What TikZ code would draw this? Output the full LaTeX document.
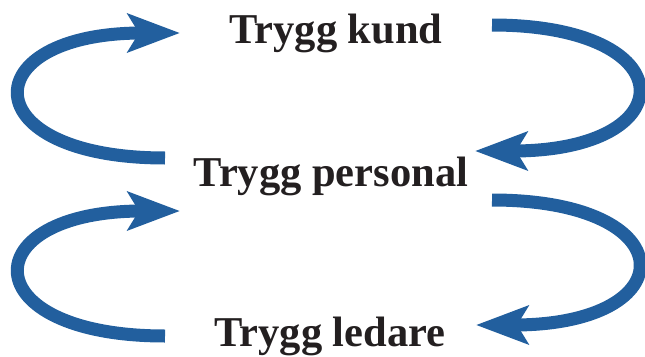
\documentclass[tikz,border=0pt]{standalone}
\usepackage{fontspec}
\setmainfont{Liberation Serif}
\usetikzlibrary{arrows.meta}
\definecolor{arrowblue}{HTML}{225F9E}
\definecolor{textblack}{HTML}{231F20}
\tikzset{
  label/.style={font=\fontsize{42.5}{50}\selectfont\bfseries, text=textblack, anchor=base, inner sep=0pt},
  loop/.style={draw=arrowblue, line width=13pt, line cap=butt,
    -{Stealth[length=52pt, width=38pt, inset=11pt]}},
}
\begin{document}
\begin{tikzpicture}[x=1pt, y=-1pt]
\useasboundingbox (0,0) rectangle (645,356);
\node[label] (kund) at (336,43) {Trygg kund};
\node[label] (pers) at (331,186) {Trygg personal};
\node[label] (led) at (330,346) {Trygg ledare};
% coordinates of arrow ends
\coordinate (t1) at (165,158);
\coordinate (h1) at (180,33);
\coordinate (t2) at (492,25);
\coordinate (h2) at (475,151);
\coordinate (t3) at (165,336);
\coordinate (h3) at (180,211);
\coordinate (t4) at (492,200);
\coordinate (h4) at (476,325);
\draw[loop] (t1) .. controls (-28,158) and (-28,33) .. (h1);
\draw[loop] (t2) .. controls (686,25) and (686,151) .. (h2);
\draw[loop] (t3) .. controls (-28,336) and (-28,211) .. (h3);
\draw[loop] (t4) .. controls (686,200) and (686,325) .. (h4);
\end{tikzpicture}
\end{document}
